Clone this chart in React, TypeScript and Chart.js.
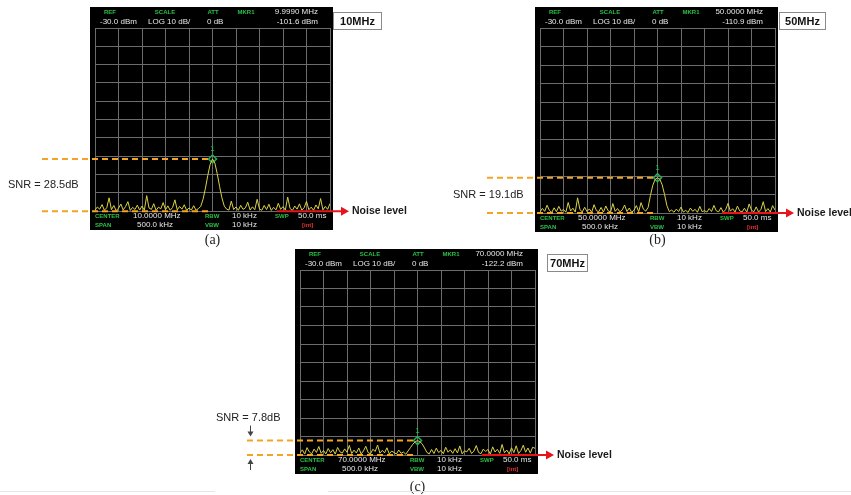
import React, { useEffect, useRef } from 'react';
import { Chart, registerables } from 'chart.js';

Chart.register(...registerables);

// Sweep bins: 500 kHz span around the centre frequency, 5 kHz per bin
const FREQ_OFFSET_KHZ: number[] = Array.from({ length: 101 }, (_, i) => -250 + i * 5);

// Measured traces (dBm), one value per sweep bin
const TRACE_10MHZ: number[] = [
  -129.5, -127.8, -129.0, -126.5, -129.6, -128.2, -122.8, -129.3, -127.0, -129.8,
  -128.5, -126.2, -129.4, -127.6, -124.9, -129.7, -128.0, -129.2, -126.8, -129.5,
  -127.3, -129.6, -121.6, -128.4, -129.1, -126.0, -129.7, -127.9, -128.8, -125.4,
  -129.3, -127.2, -129.6, -128.1, -123.9, -129.4, -127.5, -129.0, -126.6, -129.7,
  -128.3, -129.5, -127.1, -129.6, -128.7, -127.5, -123.5, -117.5, -110.5, -104.5,
  -101.6,
  -103.8, -109.5, -116.5, -122.8, -127.3, -129.0, -129.5, -124.6, -129.2, -127.8,
  -129.6, -126.9, -129.1, -128.3, -125.2, -129.5, -127.7, -129.3, -123.6, -128.9,
  -129.6, -127.0, -129.2, -126.3, -129.7, -128.0, -129.4, -125.8, -129.1, -127.6,
  -129.5, -122.4, -128.6, -129.7, -127.3, -129.0, -126.1, -129.5, -128.2, -124.7,
  -129.3, -127.9, -129.6, -126.7, -128.8, -123.2, -129.4, -127.5, -129.1, -125.9,
];

const TRACE_50MHZ: number[] = [
  -129.4, -127.5, -129.1, -125.8, -128.6, -129.7, -127.2, -129.3, -126.4, -129.0,
  -128.1, -129.6, -124.3, -128.9, -127.4, -129.5, -121.8, -128.2, -129.4, -126.9,
  -129.2, -127.8, -129.6, -125.5, -128.7, -129.3, -127.0, -129.5, -126.2, -128.8,
  -129.6, -124.9, -129.1, -127.6, -129.4, -128.3, -125.7, -129.2, -127.3, -129.6,
  -128.5, -126.0, -129.3, -124.4, -127.9, -129.0, -127.0, -120.5, -115.0, -111.9,
  -110.9,
  -111.8, -114.8, -120.0, -126.0, -129.2, -128.4, -129.6, -127.9, -129.2, -126.8,
  -129.5, -128.6, -129.7, -127.3, -129.1, -128.0, -129.6, -126.4, -129.3, -128.7,
  -129.5, -127.6, -129.2, -125.9, -128.8, -129.4, -127.1, -129.6, -128.2, -124.8,
  -129.0, -127.7, -129.5, -126.3, -128.9, -129.4, -127.4, -129.6, -125.1, -128.5,
  -129.3, -126.7, -129.5, -128.1, -123.9, -129.2, -127.6, -129.5, -126.0, -128.4,
];

const TRACE_70MHZ: number[] = [
  -128.9, -127.2, -129.5, -126.0, -128.4, -129.3, -126.8, -128.6, -125.4, -129.1,
  -127.6, -129.4, -126.5, -128.8, -127.1, -129.5, -125.9, -128.3, -129.0, -126.7,
  -128.5, -124.8, -129.2, -127.4, -128.9, -126.2, -129.4, -127.8, -125.3, -128.7,
  -129.3, -126.9, -128.1, -124.6, -129.0, -127.5, -128.8, -126.1, -129.4, -127.9,
  -128.6, -129.5, -127.3, -129.1, -128.4, -129.6, -127.8, -126.0, -124.2, -122.9,
  -122.2,
  -122.8, -124.0, -126.2, -128.6, -129.4, -127.0, -129.2, -126.3, -128.7, -127.5,
  -129.3, -125.8, -128.5, -127.2, -129.1, -126.6, -128.9, -125.1, -129.4, -127.7,
  -128.3, -126.4, -129.2, -127.9, -124.9, -128.6, -129.3, -126.8, -128.1, -127.0,
  -129.5, -125.6, -128.4, -126.9, -129.1, -124.3, -128.8, -127.3, -129.4, -126.1,
  -128.7, -125.0, -129.2, -127.6, -124.7, -128.5, -126.2, -129.0, -125.8, -126.4,
];

const TRACES: number[][] = [TRACE_10MHZ, TRACE_50MHZ, TRACE_70MHZ];

// Marker 1 readout and signal-to-noise ratio for each measurement
const MARKER_DBM: number[] = [-101.6, -110.9, -122.2];
const MARKER_FREQ_LABELS: string[] = ['9.9990 MHz', '50.0000 MHz', '70.0000 MHz'];
const SNR_DB: number[] = [28.5, 19.1, 7.8];

// Instrument settings shown on screen
const CENTER_LABELS: string[] = ['10.0000 MHz', '50.0000 MHz', '70.0000 MHz'];
const TAG_LABELS: string[] = ['10MHz', '50MHz', '70MHz'];
const CAPTIONS: string[] = ['(a)', '(b)', '(c)'];
const REF_LEVEL_DBM = -30;
const DB_PER_DIV = 10;
const DIVISIONS = 10;
const SPAN_KHZ = 500;

// Page placement of each analyzer screen
const PANEL_LAYOUTS = [
  { left: 0, top: 0, width: 430, height: 248, padding: { left: 95, top: 28, right: 100, bottom: 37 }, tagDx: 3, tagW: 49, captionY: 240, snrAbove: false },
  { left: 430, top: 0, width: 421, height: 248, padding: { left: 110, top: 28, right: 76, bottom: 35 }, tagDx: 4, tagW: 47, captionY: 240, snrAbove: false },
  { left: 190, top: 248, width: 450, height: 247, padding: { left: 110, top: 22, right: 105, bottom: 40 }, tagDx: 12, tagW: 41, captionY: 239, snrAbove: true },
];

const GRID_COLOR = '#6c6c6c';
const TRACE_COLOR = '#dbd145';
const MARKER_COLOR = '#25b05a';
const LABEL_GREEN = '#2cc046';
const SCREEN_TEXT = '#e6e6e6';
const DASH_COLOR = '#f2a524';
const NOISE_ARROW = '#e8141c';
const SANS = '"Liberation Sans", Arial, sans-serif';

function text(ctx: CanvasRenderingContext2D, s: string, x: number, y: number, font: string, color: string, align: CanvasTextAlign = 'left') {
  ctx.font = font;
  ctx.fillStyle = color;
  ctx.textAlign = align;
  ctx.textBaseline = 'middle';
  ctx.fillText(s, x, y);
}

function vArrow(ctx: CanvasRenderingContext2D, x: number, y1: number, y2: number, color: string) {
  const dir = y2 > y1 ? 1 : -1;
  ctx.strokeStyle = color;
  ctx.fillStyle = color;
  ctx.lineWidth = 1;
  ctx.setLineDash([]);
  ctx.beginPath();
  ctx.moveTo(x + 0.5, y1);
  ctx.lineTo(x + 0.5, y2 - dir * 4);
  ctx.stroke();
  ctx.beginPath();
  ctx.moveTo(x + 0.5, y2);
  ctx.lineTo(x - 2.5, y2 - dir * 5);
  ctx.lineTo(x + 3.5, y2 - dir * 5);
  ctx.closePath();
  ctx.fill();
}

function makePanelPlugin(idx: number) {
  const L = PANEL_LAYOUTS[idx];
  const peak = MARKER_DBM[idx];
  const noise = peak - SNR_DB[idx];
  return {
    id: 'analyzerScreen' + idx,
    beforeDraw(chart: any) {
      const { ctx, chartArea: a } = chart;
      ctx.save();
      ctx.fillStyle = '#000';
      ctx.fillRect(a.left - 5, a.top - 21, a.right - a.left + 8, a.bottom - a.top + 40);
      ctx.restore();
    },
    afterDraw(chart: any) {
      const { ctx, chartArea: a, scales } = chart;
      const bx = a.left - 5;
      ctx.save();

      // Header readout
      const g = `bold 6px ${SANS}`;
      const w = `8px ${SANS}`;
      const h1 = a.top - 16;
      const h2 = a.top - 6;
      text(ctx, 'REF', bx + 20, h1, g, LABEL_GREEN, 'center');
      text(ctx, 'SCALE', bx + 75, h1, g, LABEL_GREEN, 'center');
      text(ctx, 'ATT', bx + 123, h1, g, LABEL_GREEN, 'center');
      text(ctx, 'MKR1', bx + 156, h1, g, LABEL_GREEN, 'center');
      text(ctx, MARKER_FREQ_LABELS[idx], bx + 228, h1, w, SCREEN_TEXT, 'right');
      text(ctx, `${REF_LEVEL_DBM.toFixed(1)} dBm`, bx + 10, h2, w, SCREEN_TEXT);
      text(ctx, `LOG ${DB_PER_DIV} dB/`, bx + 58, h2, w, SCREEN_TEXT);
      text(ctx, '0 dB', bx + 117, h2, w, SCREEN_TEXT);
      text(ctx, `${peak.toFixed(1)} dBm`, bx + 228, h2, w, SCREEN_TEXT, 'right');

      // Footer readout
      const f1 = a.bottom + 5;
      const f2 = a.bottom + 14;
      text(ctx, 'CENTER', bx + 5, f1, g, LABEL_GREEN);
      text(ctx, CENTER_LABELS[idx], bx + 43, f1, w, SCREEN_TEXT);
      text(ctx, 'RBW', bx + 115, f1, g, LABEL_GREEN);
      text(ctx, '10 kHz', bx + 142, f1, w, SCREEN_TEXT);
      text(ctx, 'SWP', bx + 185, f1, g, LABEL_GREEN);
      text(ctx, '50.0 ms', bx + 208, f1, w, SCREEN_TEXT);
      text(ctx, 'SPAN', bx + 5, f2, g, LABEL_GREEN);
      text(ctx, `${SPAN_KHZ.toFixed(1)} kHz`, bx + 47, f2, w, SCREEN_TEXT);
      text(ctx, 'VBW', bx + 115, f2, g, LABEL_GREEN);
      text(ctx, '10 kHz', bx + 142, f2, w, SCREEN_TEXT);
      text(ctx, '[int]', bx + 212, f2, `bold 6px ${SANS}`, '#e83030');

      // Marker number above the peak
      const xPeak = scales.x.getPixelForValue(0);
      const yPeak = scales.y.getPixelForValue(peak);
      const yNoise = scales.y.getPixelForValue(noise);
      text(ctx, '1', xPeak, yPeak - 10, `bold 7px ${SANS}`, MARKER_COLOR, 'center');

      // SNR guide lines: peak level and noise level
      ctx.strokeStyle = DASH_COLOR;
      ctx.lineWidth = 2;
      ctx.setLineDash([6, 4]);
      for (const y of [yPeak, yNoise]) {
        ctx.beginPath();
        ctx.moveTo(a.left - 53, y);
        ctx.lineTo(xPeak - 3, y);
        ctx.stroke();
      }
      ctx.setLineDash([]);

      const snrLabel = `SNR = ${SNR_DB[idx]}dB`;
      if (L.snrAbove) {
        text(ctx, snrLabel, a.left - 84, yPeak - 23, `11px ${SANS}`, '#222');
        vArrow(ctx, a.left - 50, yPeak - 15, yPeak - 4, '#444');
        vArrow(ctx, a.left - 50, yNoise + 15, yNoise + 4, '#444');
      } else {
        text(ctx, snrLabel, a.left - 87, (yPeak + yNoise) / 2, `11px ${SANS}`, '#222');
      }

      // Noise level pointer
      const x1 = a.right - 53;
      const x2 = a.right + 19;
      ctx.strokeStyle = NOISE_ARROW;
      ctx.fillStyle = NOISE_ARROW;
      ctx.lineWidth = 2;
      ctx.beginPath();
      ctx.moveTo(x1, yNoise);
      ctx.lineTo(x2 - 7, yNoise);
      ctx.stroke();
      ctx.beginPath();
      ctx.moveTo(x2, yNoise);
      ctx.lineTo(x2 - 8, yNoise - 4.5);
      ctx.lineTo(x2 - 8, yNoise + 4.5);
      ctx.closePath();
      ctx.fill();
      text(ctx, 'Noise level', x2 + 3, yNoise, `bold 10.5px ${SANS}`, '#1a1a1a');

      // Frequency tag
      const tx = a.right + L.tagDx;
      const ty = a.top - 16;
      ctx.fillStyle = '#fff';
      ctx.fillRect(tx, ty, L.tagW, 18);
      ctx.strokeStyle = '#8a8a8a';
      ctx.lineWidth = 1;
      ctx.strokeRect(tx + 0.5, ty + 0.5, L.tagW - 1, 17);
      text(ctx, TAG_LABELS[idx], tx + L.tagW / 2, ty + 9.5, `bold 11px ${SANS}`, '#111', 'center');

      // Caption
      text(ctx, CAPTIONS[idx], (a.left + a.right) / 2, L.captionY, '14px "Liberation Serif", serif', '#222', 'center');

      ctx.restore();
    },
  };
}

function AnalyzerPanel({ idx }: { idx: number }) {
  const ref = useRef<HTMLCanvasElement | null>(null);
  const L = PANEL_LAYOUTS[idx];

  useEffect(() => {
    const canvas = ref.current;
    if (!canvas) return;
    const trace = TRACES[idx];
    const axisGrid = { color: GRID_COLOR, lineWidth: 1, drawTicks: false };
    const chart = new Chart(canvas, {
      type: 'line',
      data: {
        datasets: [
          {
            data: FREQ_OFFSET_KHZ.map((f, i) => ({ x: f, y: trace[i] })),
            borderColor: TRACE_COLOR,
            borderWidth: 1,
            pointRadius: 0,
            tension: 0,
          },
          {
            data: [{ x: 0, y: MARKER_DBM[idx] }],
            showLine: false,
            pointStyle: 'rectRot',
            pointRadius: 4,
            borderColor: MARKER_COLOR,
            backgroundColor: 'rgba(0,0,0,0)',
            borderWidth: 1.5,
          },
        ],
      },
      options: {
        responsive: false,
        animation: false,
        devicePixelRatio: 1,
        events: [],
        layout: { padding: L.padding },
        plugins: { legend: { display: false }, tooltip: { enabled: false } },
        scales: {
          x: {
            type: 'linear',
            min: -SPAN_KHZ / 2,
            max: SPAN_KHZ / 2,
            ticks: { display: false, stepSize: SPAN_KHZ / DIVISIONS },
            grid: axisGrid,
            border: { color: GRID_COLOR },
          },
          y: {
            type: 'linear',
            min: REF_LEVEL_DBM - DB_PER_DIV * DIVISIONS,
            max: REF_LEVEL_DBM,
            ticks: { display: false, stepSize: DB_PER_DIV },
            grid: axisGrid,
            border: { color: GRID_COLOR },
          },
        },
      } as any,
      plugins: [makePanelPlugin(idx)],
    });
    return () => chart.destroy();
  }, [idx]);

  return (
    <canvas
      ref={ref}
      width={L.width}
      height={L.height}
      style={{ position: 'absolute', left: L.left, top: L.top, width: L.width, height: L.height }}
    />
  );
}

export default function App() {
  return (
    <div style={{ position: 'fixed', left: 0, top: 0, width: 851, height: 495, background: '#fff', overflow: 'hidden' }}>
      {PANEL_LAYOUTS.map((_, i) => (
        <AnalyzerPanel key={i} idx={i} />
      ))}
      <div style={{ position: 'absolute', left: 0, top: 491, width: 215, height: 1, background: '#e6e6e6' }} />
      <div style={{ position: 'absolute', left: 328, top: 491, width: 523, height: 1, background: '#e6e6e6' }} />
    </div>
  );
}
